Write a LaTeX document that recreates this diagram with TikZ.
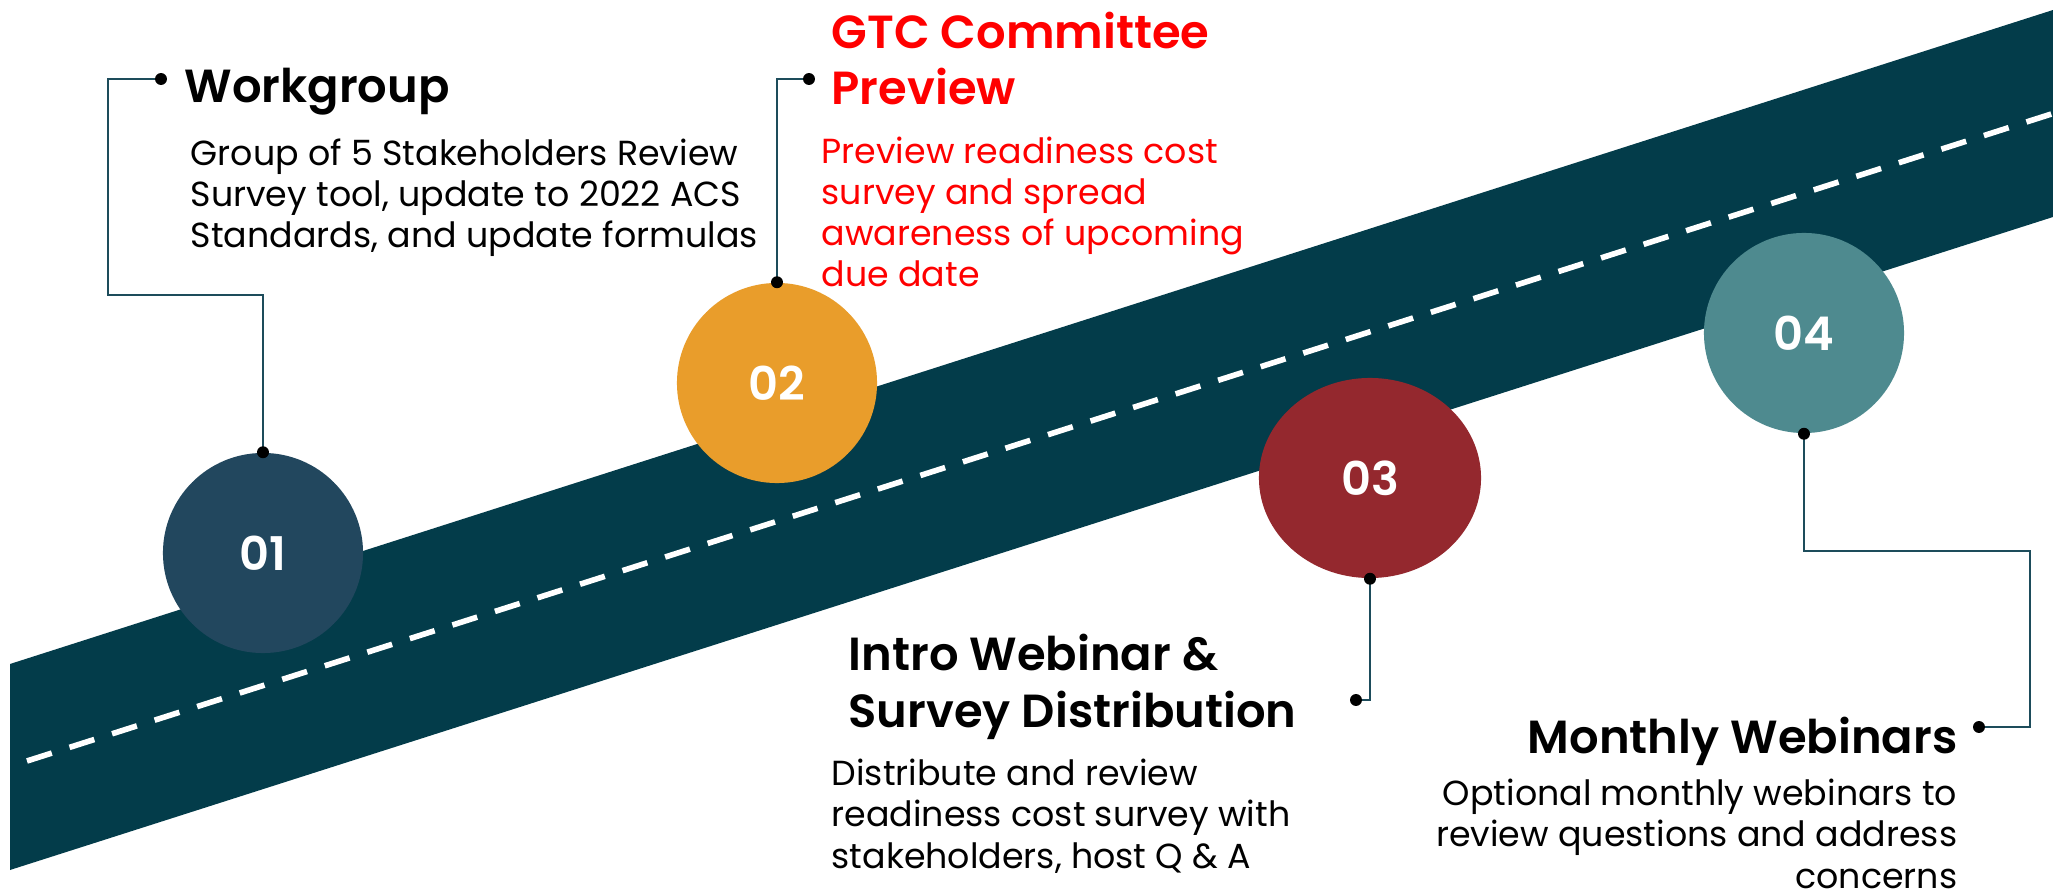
\documentclass[tikz,border=0pt]{standalone}
\usepackage{fontspec}
\setmainfont{Poppins}
\newfontfamily\headfont{Poppins SemiBold}
\usetikzlibrary{shapes.geometric}

\definecolor{road}{HTML}{033C4A}
\definecolor{stepone}{HTML}{22475E}
\definecolor{steptwo}{HTML}{E99D2B}
\definecolor{stepthree}{HTML}{94282E}
\definecolor{stepfour}{HTML}{4E8A8F}
\definecolor{pin}{HTML}{0A3A4A}
\definecolor{wire}{HTML}{1D4C5B}
\definecolor{alert}{HTML}{FF0000}

\begin{document}
\begin{tikzpicture}[x=0.01cm, y=-0.01cm,
    stage/.style={circle, fill=#1, minimum size=2cm, inner sep=0pt, text=white,
      font=\headfont\fontsize{13.2}{13}\selectfont},
    title/.style={font=\headfont\fontsize{13.2}{16.2}\selectfont, inner sep=0pt, align=left},
    blurb/.style={font=\fontsize{9.9}{11.7}\selectfont, inner sep=0pt, align=left},
    link/.style={wire, line width=0.6pt}]

    % page and the road with its centre line
    \fill[white] (0,0) rectangle (2053,894);
    \useasboundingbox (0,0) rectangle (2053,894);
    \fill[road] (10,664) -- (2053,10) -- (2053,217) -- (10,870) -- cycle;
    \draw[white, line width=1.6pt, dash pattern=on 7.4pt off 5.3pt] (27,761) -- (2053,113.5);

    % milestones
    \node[stage=stepone] (c1) at (263,553) {01};
    \node[stage=steptwo] (c2) at (777,383) {02};
    \node[stage=stepthree, ellipse, minimum width=2.22cm, minimum height=2cm] (c3) at (1370,478) {03};
    \node[stage=stepfour] (c4) at (1804,333) {04};

    % headings and descriptions (base = last line)
    \node[title, anchor=base west] (t1) at (184,103) {Workgroup};
    \node[blurb, anchor=base west] (b1) at (190,248)
      {Group of 5 Stakeholders Review\\Survey tool, update to 2022 ACS\\Standards, and update formulas};
    \node[title, text=alert, anchor=base west] (t2) at (831,105) {GTC Committee\\Preview};
    \node[blurb, text=alert, anchor=base west] (b2) at (821,287)
      {Preview readiness cost\\survey and spread\\awareness of upcoming\\due date};
    \node[title, anchor=base west] (t3) at (848,727) {Intro Webinar \&\\Survey Distribution};
    \node[blurb, anchor=base west] (b3) at (831,868)
      {Distribute and review\\readiness cost survey with\\stakeholders, host Q \& A};
    \node[title, anchor=base east, align=right] (t4) at (1958,753) {Monthly Webinars};
    \node[blurb, anchor=base east, align=right] (b4) at (1958,888)
      {Optional monthly webinars to\\review questions and address\\concerns};

    % leader lines
    \coordinate (w1) at (161,79);
    \coordinate (w2) at (809,79);
    \coordinate (w3) at (1356,700);
    \coordinate (w4) at (1979,727);
    \draw[link] (c1.north) |- (108,295) |- (w1);
    \draw[link] (c2.north) |- (w2);
    \draw[link] (c3.south) |- (w3);
    \draw[link] (c4.south) |- (2030,551) |- (w4);
    \foreach \p in {c1.north, w1, c2.north, w2, c3.south, w3, c4.south, w4}
      \fill[pin] (\p) circle (1.7pt);
\end{tikzpicture}
\end{document}
